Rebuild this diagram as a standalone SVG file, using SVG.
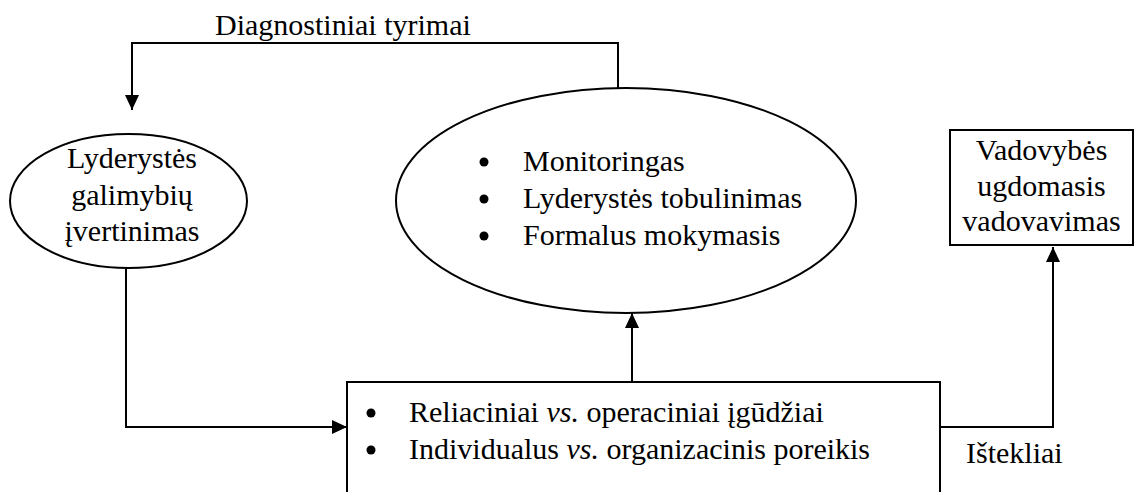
<svg xmlns="http://www.w3.org/2000/svg" width="1134" height="492" viewBox="0 0 1134 492">
  <defs>
    <marker id="arrow" markerUnits="userSpaceOnUse" markerWidth="16" markerHeight="16" viewBox="0 0 16 16" refX="15" refY="8" orient="auto">
      <path d="M0,1 L15,8 L0,15 Z" fill="#000"/>
    </marker>
    <style>
      .shape { fill: #fff; stroke: #000; stroke-width: 2; }
      .edge { fill: none; stroke: #000; stroke-width: 2; }
      .t { font-family: "Liberation Serif", "Times New Roman", serif; font-size: 30px; fill: #000; }
      .c { text-anchor: middle; }
      .dot { fill: #000; }
    </style>
  </defs>
  <rect width="1134" height="492" fill="#fff"/>

  <g id="connectors">
    <path class="edge" d="M618,88 V43 H132 V110" marker-end="url(#arrow)"/>
    <path class="edge" d="M126,268 V427 H347" marker-end="url(#arrow)"/>
    <path class="edge" d="M632,382 V313" marker-end="url(#arrow)"/>
    <path class="edge" d="M940,427 H1053 V247" marker-end="url(#arrow)"/>
    <text class="t" x="215" y="35">Diagnostiniai tyrimai</text>
    <text class="t" x="966" y="463">Ištekliai</text>
  </g>

  <g id="node-lyderystes-galimybiu">
    <ellipse class="shape" cx="128.5" cy="201" rx="118.5" ry="67"/>
    <text class="t c" x="132" y="168">Lyderystės</text>
    <text class="t c" x="132" y="205">galimybių</text>
    <text class="t c" x="132" y="241">įvertinimas</text>
  </g>

  <g id="node-monitoringas">
    <ellipse class="shape" cx="626" cy="200.5" rx="230" ry="112.5"/>
    <circle class="dot" cx="484" cy="162" r="4.5"/>
    <circle class="dot" cx="484" cy="199" r="4.5"/>
    <circle class="dot" cx="484" cy="236" r="4.5"/>
    <text class="t" x="523" y="171">Monitoringas</text>
    <text class="t" x="523" y="208">Lyderystės tobulinimas</text>
    <text class="t" x="523" y="245">Formalus mokymasis</text>
  </g>

  <g id="node-vadovybes">
    <rect class="shape" x="950" y="130" width="183" height="115"/>
    <text class="t c" x="1041.5" y="160">Vadovybės</text>
    <text class="t c" x="1041.5" y="196">ugdomasis</text>
    <text class="t c" x="1041.5" y="231">vadovavimas</text>
  </g>

  <g id="node-igudziai">
    <rect class="shape" x="347" y="382" width="593" height="130"/>
    <circle class="dot" cx="371" cy="413" r="4.5"/>
    <circle class="dot" cx="371" cy="450" r="4.5"/>
    <text class="t" x="409" y="422">Reliaciniai <tspan font-style="italic">vs.</tspan> operaciniai įgūdžiai</text>
    <text class="t" x="409" y="459">Individualus <tspan font-style="italic">vs.</tspan> organizacinis poreikis</text>
  </g>
</svg>
